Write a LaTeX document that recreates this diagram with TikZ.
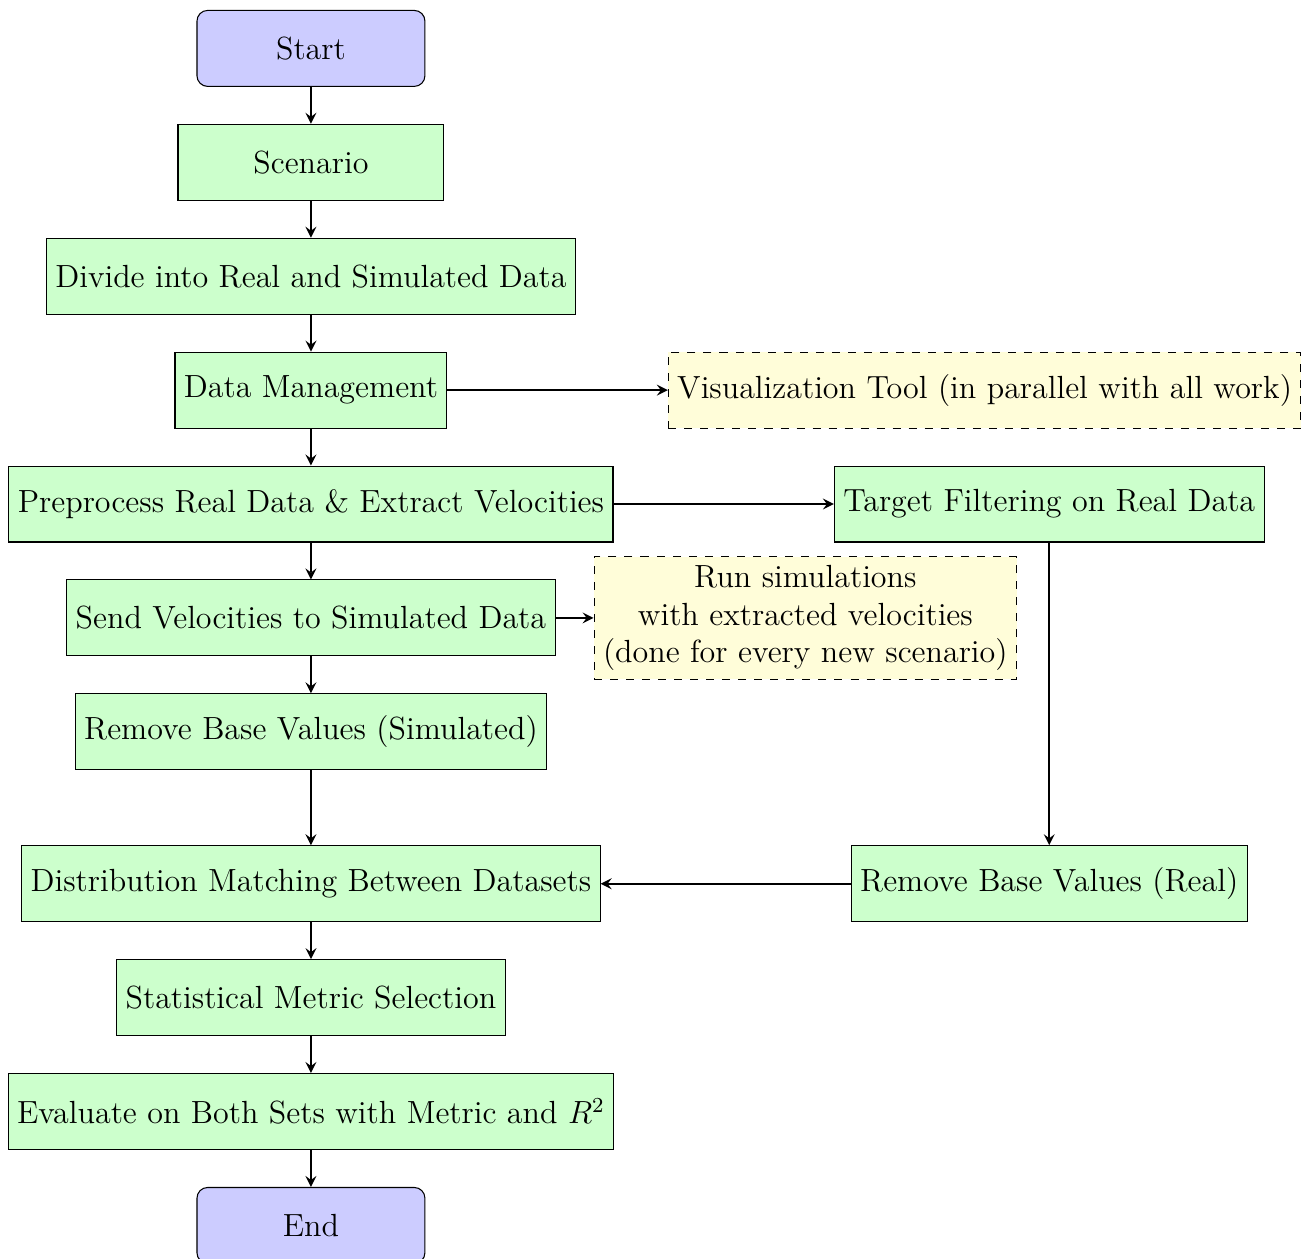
\documentclass[tikz,border=0pt]{standalone}
\usepackage{amsmath}
\usepackage{tikz}
\usetikzlibrary{positioning,calc,arrows}

\tikzset{
    startstop/.style={rectangle, rounded corners, minimum width=3cm, minimum height=1cm, text centered, draw=black, fill=blue!20},
    process/.style={rectangle, minimum width=3.5cm, minimum height=1cm, text centered, draw=black, fill=green!20},
    sidenote/.style={rectangle, dashed, minimum height=1cm, align=center, draw=black, fill=yellow!15},
    arrow/.style={thick,->,>=stealth}
}

\begin{document}
\begin{tikzpicture}[node distance=0.485cm, font=\large]
    \node (start) [startstop] {Start};
    \node (scen) [process, below=of start] {Scenario};
    \node (divide) [process, below=of scen] {Divide into Real and Simulated Data};
    \node (manage) [process, below=of divide] {Data Management};
    \node (vis) [sidenote, right=2.9cm of manage] {Visualization Tool (in parallel with all work)};
    \node (prep) [process, below=of manage] {Preprocess Real Data \& Extract Velocities};
    \node (filter) [process, right=2.9cm of prep] {Target Filtering on Real Data};
    \node (send) [process, below=of prep] {Send Velocities to Simulated Data};
    \node (runsim) [sidenote, right=0.5cm of send] {Run simulations\\with extracted velocities\\(done for every new scenario)};
    \node (remsim) [process, below=of send] {Remove Base Values (Simulated)};
    \node (match) [process, below=0.985cm of remsim] {Distribution Matching Between Datasets};
    \node (remreal) [process] at (match -| filter) {Remove Base Values (Real)};
    \node (metric) [process, below=of match] {Statistical Metric Selection};
    \node (eval) [process, below=of metric] {Evaluate on Both Sets with Metric and $R^2$};
    \node (stop) [startstop, below=of eval] {End};

    \draw [arrow] (start) -- (scen);
    \draw [arrow] (scen) -- (divide);
    \draw [arrow] (divide) -- (manage);
    \draw [arrow] (manage) -- (vis);
    \draw [arrow] (manage) -- (prep);
    \draw [arrow] (prep) -- (filter);
    \draw [arrow] (prep) -- (send);
    \draw [arrow] (send) -- (runsim);
    \draw [arrow] (send) -- (remsim);
    \draw [arrow] (filter) -- (remreal);
    \draw [arrow] (remsim) -- (match);
    \draw [arrow] (remreal) -- (match);
    \draw [arrow] (match) -- (metric);
    \draw [arrow] (metric) -- (eval);
    \draw [arrow] (eval) -- (stop);

    % crop the picture like the original
    \pgfresetboundingbox
    \useasboundingbox ($(eval.west |- start.north)+(-0.1,0.13)$) rectangle ($(vis.east |- stop.south)+(0.1,0.07)$);
\end{tikzpicture}
\end{document}
